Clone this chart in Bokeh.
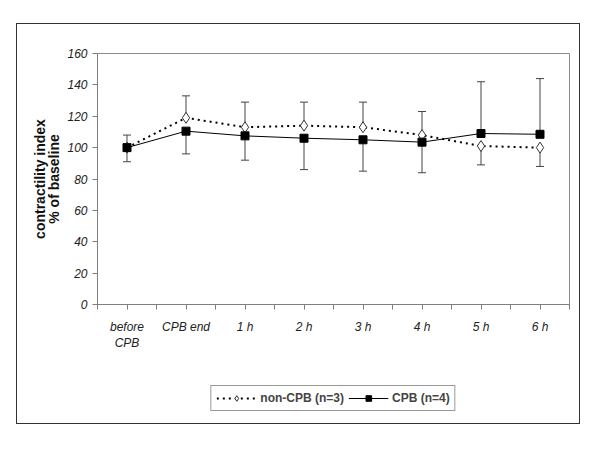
from bokeh.plotting import figure
from bokeh.layouts import column
from bokeh.models import Range1d, FixedTicker, Legend, LegendItem, ColumnDataSource
from bokeh.embed import file_html
from bokeh.resources import INLINE

categories = ["before\nCPB", "CPB end", "1 h", "2 h", "3 h", "4 h", "5 h", "6 h"]
non_cpb = [100, 119, 113, 114, 113, 108, 101, 100]
non_cpb_bar_end = [108, 133, 129, 129, 129, 123, 89, 88]
cpb = [100, 110.5, 107.5, 106, 105, 103.5, 109, 108.5]
cpb_bar_end = [91, 96, 92, 86, 85, 84, 142, 144]
y_ticks = [0, 20, 40, 60, 80, 100, 120, 140, 160]
series_names = ["non-CPB (n=3)", "CPB (n=4)"]

xs = list(range(len(categories)))

p = figure(width=562, height=330, output_backend="svg", toolbar_location=None,
           x_range=Range1d(-0.5, len(categories) - 0.5), y_range=Range1d(0, 160),
           min_border_left=80, min_border_right=10, min_border_top=29, min_border_bottom=50)
p.grid.visible = False
p.outline_line_color = "#8c8c8c"
p.outline_line_width = 1
p.background_fill_color = "white"
p.border_fill_color = "white"

# axes
p.xaxis.ticker = FixedTicker(ticks=xs, minor_ticks=[i - 0.5 for i in range(len(categories) + 1)])
p.xaxis.major_label_overrides = {i: c for i, c in enumerate(categories)}
p.yaxis.ticker = FixedTicker(ticks=y_ticks)
for ax in (p.xaxis, p.yaxis):
    ax.axis_line_color = "#7f7f7f"
    ax.major_tick_line_color = "#7f7f7f"
    ax.minor_tick_line_color = "#7f7f7f"
    ax.major_tick_in = 0
    ax.major_tick_out = 5
    ax.minor_tick_in = 0
    ax.minor_tick_out = 5
    ax.major_label_text_font = "Liberation Sans"
    ax.major_label_text_font_style = "italic"
    ax.major_label_text_font_size = "12px"
    ax.major_label_text_color = "#222222"
p.yaxis.minor_tick_line_color = None
p.xaxis.major_label_standoff = 10
p.yaxis.major_label_standoff = 5
p.yaxis.axis_label = "contractility index\n% of baseline"
p.yaxis.axis_label_text_font = "Liberation Sans"
p.yaxis.axis_label_text_font_style = "bold"
p.yaxis.axis_label_text_font_size = "14px"
p.yaxis.axis_label_text_line_height = 0.9
p.yaxis.axis_label_text_color = "#111111"
p.yaxis.axis_label_standoff = 2

src = ColumnDataSource(dict(x=xs, non=non_cpb, non_end=non_cpb_bar_end, cpb=cpb, cpb_end=cpb_bar_end))

# error bars
p.segment(x0="x", y0="non", x1="x", y1="non_end", source=src, line_color="#444444", line_width=1)
p.scatter(x="x", y="non_end", source=src, marker="dash", size=8, line_color="#444444", line_width=1)
p.segment(x0="x", y0="cpb", x1="x", y1="cpb_end", source=src, line_color="#444444", line_width=1)
p.scatter(x="x", y="cpb_end", source=src, marker="dash", size=8, line_color="#444444", line_width=1)

# series styles
non_line = dict(line_color="black", line_width=2, line_dash="2 4")
non_mark = dict(marker="diamond", size=11, fill_color="white", line_color="#333333", line_width=1)
cpb_line = dict(line_color="black", line_width=1)
cpb_mark = dict(marker="square", size=8, fill_color="black", line_color="black")

p.line(x="x", y="non", source=src, **non_line)
p.scatter(x="x", y="non", source=src, **non_mark)
p.line(x="x", y="cpb", source=src, **cpb_line)
p.scatter(x="x", y="cpb", source=src, **cpb_mark)

# legend strip (lower part of the outer box); its ranges keep the series out of view,
# so only the legend keys are drawn
q = figure(width=562, height=69, output_backend="svg", toolbar_location=None,
           x_range=Range1d(-0.5, len(categories) - 0.5), y_range=Range1d(1000, 1001),
           x_axis_location=None, y_axis_location=None,
           min_border_left=80, min_border_right=10, min_border_top=0, min_border_bottom=0)
q.grid.visible = False
q.outline_line_color = None
q.border_fill_color = "white"
k1 = q.line(x="x", y="non", source=src, **non_line)
k2 = q.scatter(x="x", y="non", source=src, **non_mark)
k3 = q.line(x="x", y="cpb", source=src, **cpb_line)
k4 = q.scatter(x="x", y="cpb", source=src, **cpb_mark)

legend = Legend(items=[LegendItem(label=series_names[0], renderers=[k1, k2]),
                       LegendItem(label=series_names[1], renderers=[k3, k4])],
                orientation="horizontal", location="bottom_center")
legend.label_text_font = "Liberation Sans"
legend.label_text_font_style = "bold"
legend.label_text_font_size = "12px"
legend.glyph_width = 40
legend.glyph_height = 14
legend.spacing = 4
legend.padding = 5
legend.margin = 12
legend.label_standoff = 4
legend.border_line_color = "#333333"
legend.border_line_width = 1
legend.background_fill_alpha = 1
q.add_layout(legend, "center")

layout = column(p, q, spacing=0, margin=(23, 0, 0, 16), styles={"border": "1px solid #333333"})

open("out.html", "w").write(file_html(layout, INLINE))
